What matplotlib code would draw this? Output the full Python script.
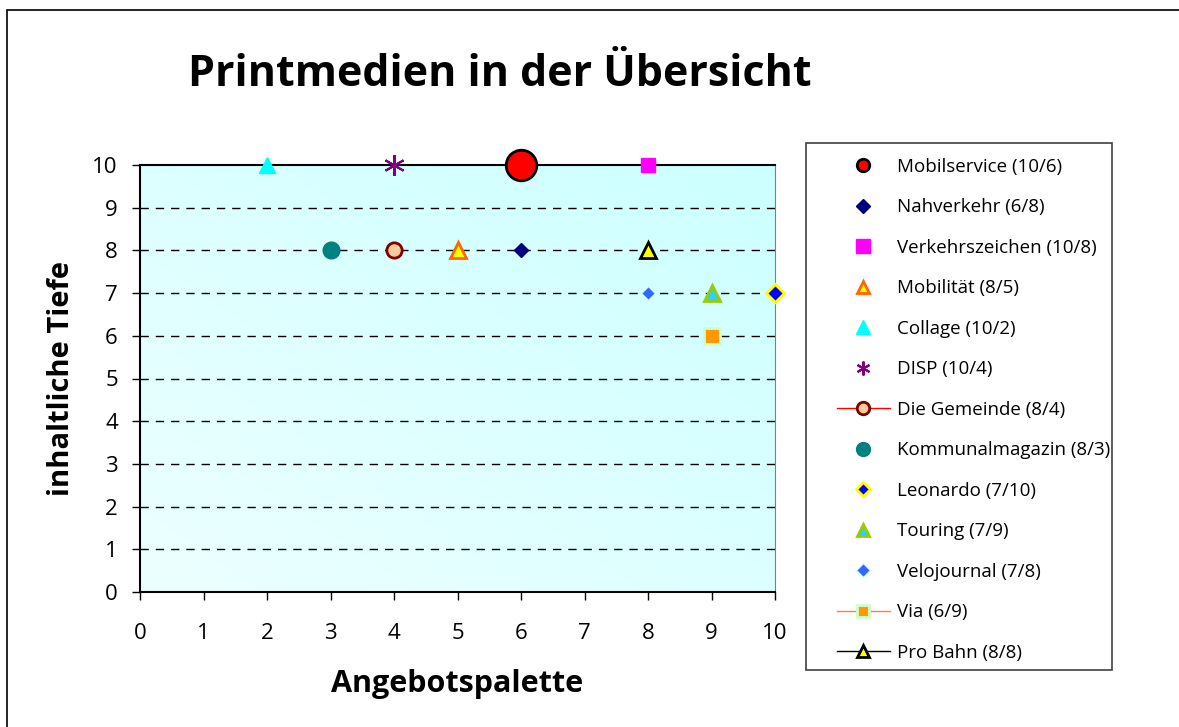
from matplotlib import pyplot as plt
from matplotlib.patches import Rectangle
import numpy as np

plt.rcParams['font.family'] = ['Open Sans', 'DejaVu Sans']

# Printmedien: Angebotspalette (x) und inhaltliche Tiefe (y)
names = ['Mobilservice (10/6)', 'Nahverkehr (6/8)', 'Verkehrszeichen (10/8)',
         'Mobilität (8/5)', 'Collage (10/2)', 'DISP (10/4)', 'Die Gemeinde (8/4)',
         'Kommunalmagazin (8/3)', 'Leonardo (7/10)', 'Touring (7/9)',
         'Velojournal (7/8)', 'Via (6/9)', 'Pro Bahn (8/8)']
angebot = [6, 6, 8, 5, 2, 4, 4, 3, 10, 9, 8, 9, 8]
tiefe = [10, 8, 10, 8, 10, 10, 8, 8, 7, 7, 7, 6, 8]

# marker, size, face, edge, edge width, line style/colour (legend only), legend size
styles = [
    ('o', 22, '#ff0000', '#000000', 2.0, 'none', None, 9),
    ('D', 7.5, '#000080', '#000080', 1.0, 'none', None, 7.5),
    ('s', 10, '#ff00ff', '#ff00ff', 1.0, 'none', None, 10),
    ('^', 11, '#ffff00', '#ff6600', 2.0, 'none', None, 9),
    ('^', 12, '#00ffff', '#00ffff', 1.0, 'none', None, 10),
    ((6, 2, 0), 15, '#800080', '#800080', 1.5, 'none', None, 10),
    ('o', 11, '#ffcc99', '#800000', 2.0, '-', '#ff0000', 9),
    ('o', 12, '#008080', '#008080', 1.0, 'none', None, 10),
    ('D', 9, '#0000ff', '#ffff00', 2.0, 'none', None, 7.5),
    ('^', 11, '#33ccff', '#99cc00', 2.0, 'none', None, 9),
    ('D', 7.5, '#3366ff', '#ccffff', 1.0, 'none', None, 7),
    ('s', 11, '#ff9900', '#ccffcc', 2.0, '-', '#ff8040', 9),
    ('^', 11, '#ffff00', '#000000', 2.0, '-', '#000000', 9),
]

fig = plt.figure(figsize=(11.79, 7.27), dpi=100)
ax = fig.add_axes([140 / 1179, 1 - 592 / 727, 635 / 1179, 427 / 727])

# outer frame of the chart
fig.patches.append(Rectangle((7 / 1179, -0.05), 1.1, 1 - 10 / 727 + 0.05,
                             transform=fig.transFigure, fill=False,
                             edgecolor='black', linewidth=1.2))
# legend frame
fig.patches.append(Rectangle((806 / 1179, 1 - 670 / 727), 306 / 1179, 527 / 727,
                             transform=fig.transFigure, fill=False,
                             edgecolor='#404040', linewidth=1.2))

# light cyan gradient background
gx, gy = np.meshgrid(np.linspace(0, 1, 200), np.linspace(0, 1, 200))
g = (gx + gy) / 2
c0 = np.array([0.93, 1.0, 1.0])
c1 = np.array([0.80, 1.0, 1.0])
img = c0 + (c1 - c0) * g[..., None]
ax.imshow(img, extent=[0, 10, 0, 10], origin='lower', aspect='auto', zorder=0)

for y in range(1, 10):
    ax.axhline(y, color='black', linestyle=(0, (6, 5)), linewidth=1, zorder=1)

for i in range(len(names)):
    m, ms, fc, ec, ew, ls, lc, lms = styles[i]
    ax.plot(angebot[i], tiefe[i], marker=m, markersize=ms, markerfacecolor=fc,
            markeredgecolor=ec, markeredgewidth=ew, linestyle=ls,
            color=lc if lc else fc, linewidth=1, label=names[i],
            clip_on=False, zorder=3)

ax.set_xlim(0, 10)
ax.set_ylim(0, 10)
ax.set_xticks(range(0, 11))
ax.set_yticks(range(0, 11))
ax.tick_params(labelsize=16, length=6, width=1, direction='out', pad=10)
ax.tick_params(axis='x', pad=16)
ax.spines['right'].set_color('#808080')
for s in ['left', 'bottom', 'top']:
    ax.spines[s].set_linewidth(1.5)

ax.set_xlabel('Angebotspalette', fontsize=22, fontweight='bold', labelpad=18)
ax.set_ylabel('inhaltliche Tiefe', fontsize=21, fontweight='bold', labelpad=12)
fig.text(500 / 1179, 1 - 74 / 727, 'Printmedien in der Übersicht',
         fontsize=31, fontweight='bold', ha='center', va='center')

leg = fig.legend(loc='upper left', bbox_to_anchor=(831 / 1179, 1 - 152 / 727),
                 fontsize=13.5, numpoints=1, handlelength=2.83, labelspacing=1.2,
                 borderpad=0.3, handletextpad=0.37, borderaxespad=0,
                 frameon=False)
for h, st in zip(leg.legend_handles, styles):
    h.set_markersize(st[7])

plt.savefig('out.png', dpi=100)
